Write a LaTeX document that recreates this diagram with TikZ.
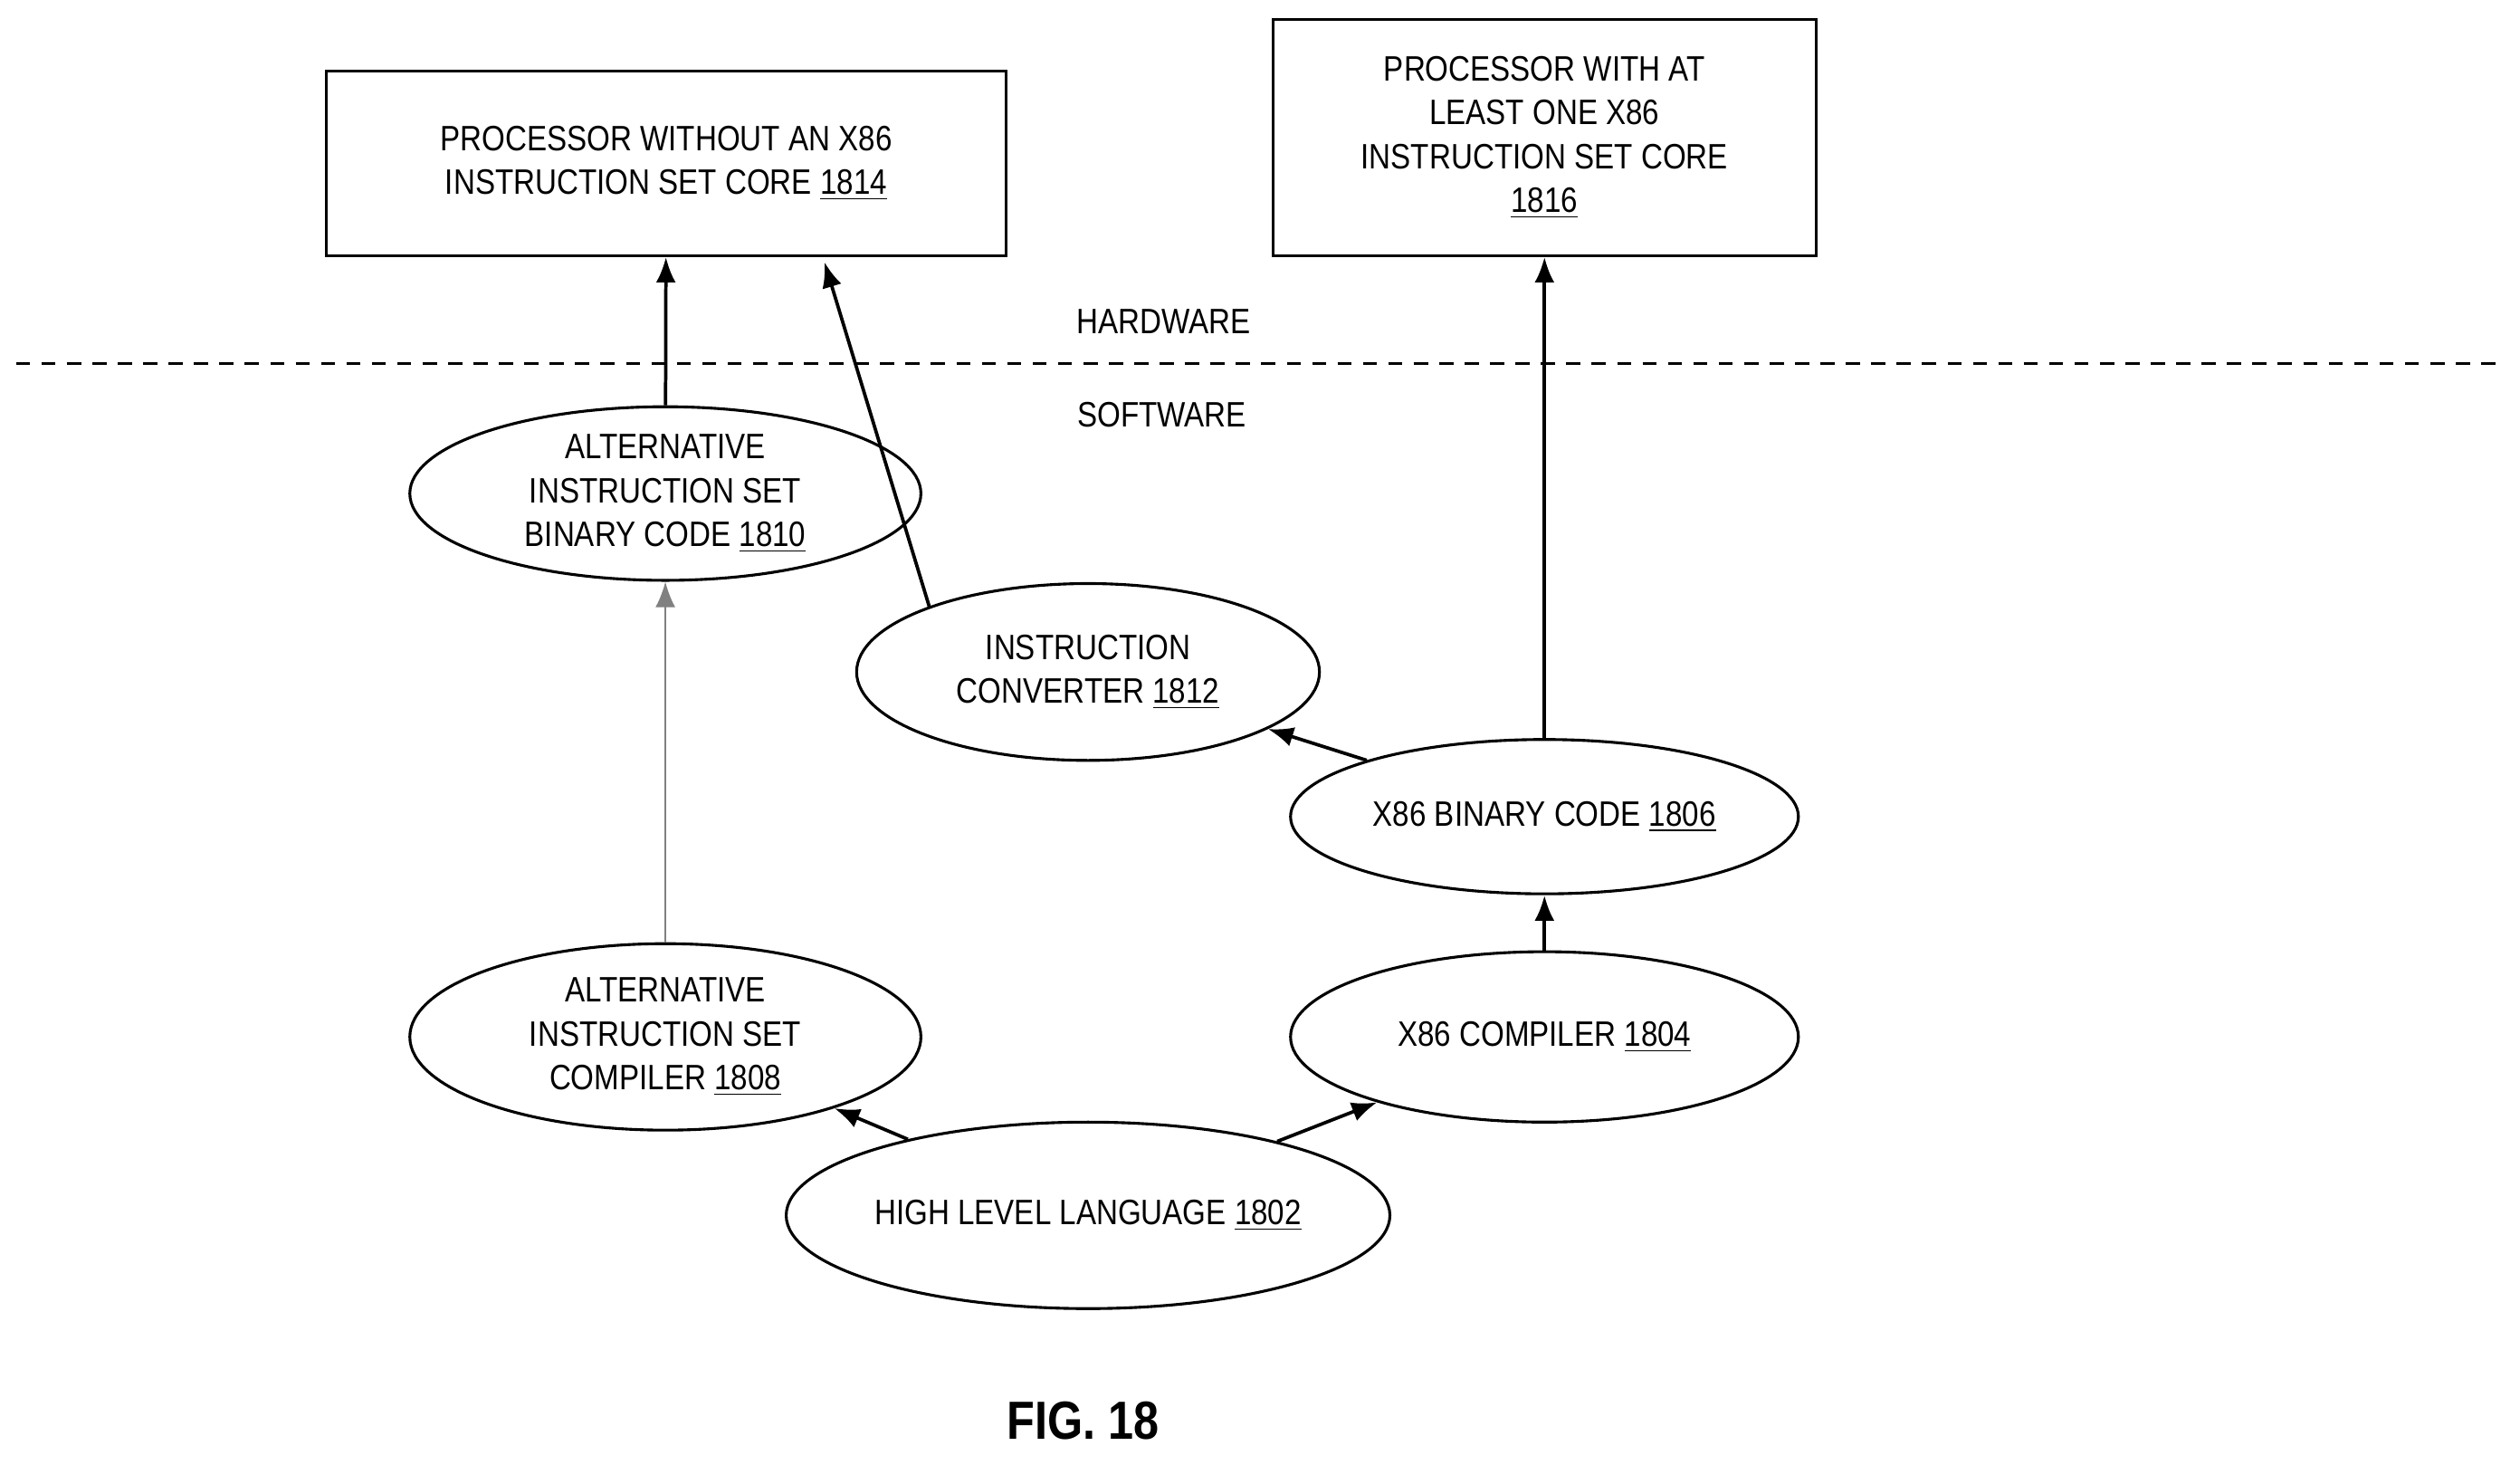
\documentclass[tikz,border=0pt]{standalone}
\usepackage{fontspec}
\setmainfont{Liberation Sans}
\usetikzlibrary{shapes.geometric,arrows.meta}
\begin{document}
\begin{tikzpicture}[x=0.02cm,y=-0.02cm,
    font=\fontsize{12.5}{15.5}\selectfont\addfontfeature{FakeStretch=0.85},
    box/.style={rectangle, draw, line width=1pt, align=center, inner sep=0pt},
    blob/.style={ellipse, draw, line width=1pt, align=center, inner sep=0pt},
    arrow/.style={line width=1.2pt, -{Latex[length=9pt,width=7pt]}}]
    \useasboundingbox (0,0) rectangle (1568,911);
    \node (proc1814) [box, minimum width=423*0.02cm, minimum height=115*0.02cm] at (414.5,101.5) {PROCESSOR WITHOUT AN X86\\INSTRUCTION SET CORE \underline{1814}};
    \node (proc1816) [box, minimum width=338*0.02cm, minimum height=147*0.02cm] at (961,85.5) {PROCESSOR WITH AT\\LEAST ONE X86\\INSTRUCTION SET CORE\\\underline{1816}};
    \draw [dashed, line width=0.8pt, dash pattern=on 5pt off 4pt] (10,226) -- (1558,226);
    \node (hw) at (724,200) {HARDWARE};
    \node (sw) at (723,258) {SOFTWARE};
    \node (bin1810) [blob, minimum width=318*0.02cm, minimum height=108*0.02cm] at (414,307) {ALTERNATIVE\\INSTRUCTION SET\\BINARY CODE \underline{1810}};
    \node (conv1812) [blob, minimum width=288*0.02cm, minimum height=110*0.02cm] at (677,418) {INSTRUCTION\\CONVERTER \underline{1812}};
    \node (bin1806) [blob, minimum width=316*0.02cm, minimum height=96*0.02cm] at (961,508) {X86 BINARY CODE \underline{1806}};
    \node (comp1808) [blob, minimum width=318*0.02cm, minimum height=116*0.02cm] at (414,645) {ALTERNATIVE\\INSTRUCTION SET\\COMPILER \underline{1808}};
    \node (comp1804) [blob, minimum width=316*0.02cm, minimum height=106*0.02cm] at (961,645) {X86 COMPILER \underline{1804}};
    \node (hll1802) [blob, minimum width=348*0.02cm, minimum height=116*0.02cm] at (677,756) {HIGH LEVEL LANGUAGE \underline{1802}};
    \node (fig) at (674,884) {\fontsize{19}{22}\selectfont\bfseries FIG. 18};

    \draw [arrow] (bin1810) -- (proc1814);
    \draw [arrow] (conv1812.north west) ++(4,0) -- (513,163);
    \draw [gray, line width=0.6pt, -{Latex[length=9pt,width=7pt]}] (comp1808) -- (bin1810);
    \draw [arrow] (bin1806) -- (conv1812);
    \draw [arrow] (bin1806) -- (proc1816);
    \draw [arrow] (comp1804) -- (bin1806);
    \draw [arrow] (hll1802) -- (comp1808);
    \draw [arrow] (hll1802) -- (comp1804);
\end{tikzpicture}
\end{document}
